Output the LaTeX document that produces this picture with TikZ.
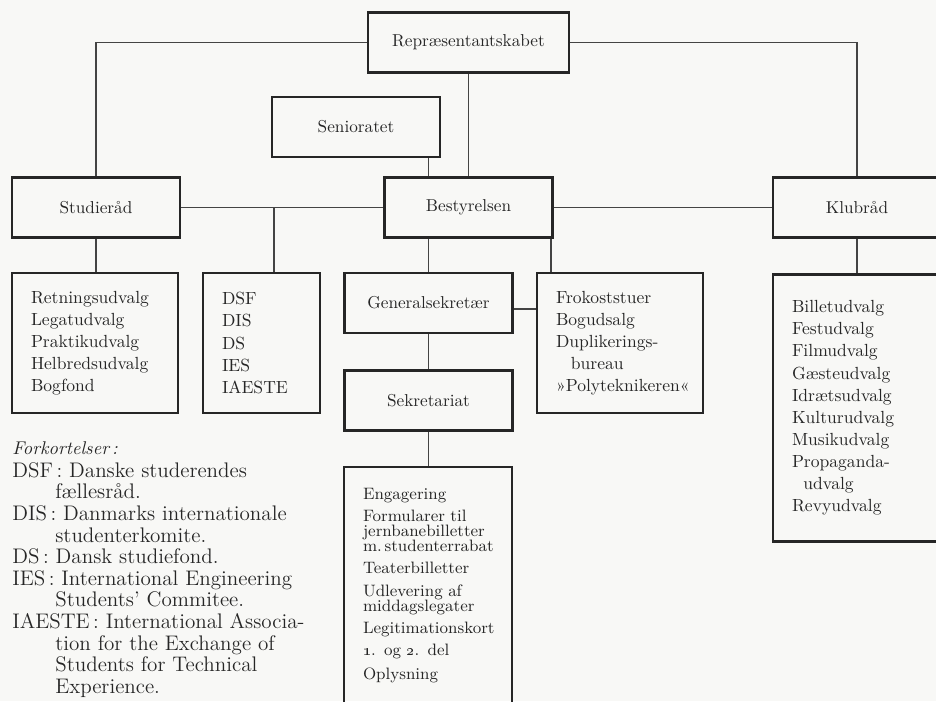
\documentclass[tikz,border=0pt]{standalone}
\usepackage{tikz}
\usepackage{xcolor}
\definecolor{paper}{HTML}{F8F8F6}
\definecolor{inkdark}{HTML}{262626}
\definecolor{inkgrey}{HTML}{262626}
\definecolor{linegrey}{HTML}{444444}
\hyphenpenalty=10000
\tikzset{
  orgbox/.style  ={rectangle, draw=inkdark, line width=1.3pt, minimum width=3.36cm,
                   minimum height=1.2cm, align=center, inner sep=1pt,
                   font=\fontsize{9.8}{12.5}\selectfont, text=inkgrey},
  topbox/.style  ={orgbox, minimum width=4.02cm},
  listbox/.style ={rectangle, draw=inkdark, line width=1.3pt, align=left,
                   inner xsep=0.38cm, inner ysep=2pt,
                   font=\fontsize{10}{12.6}\selectfont, text=inkgrey},
  smallbox/.style={listbox, font=\fontsize{9.4}{8.5}\selectfont},
  link/.style    ={draw=linegrey, line width=0.65pt},
  abbrev/.style  ={anchor=north west, align=left, inner sep=0pt,
                   font=\fontsize{12}{12.3}\selectfont, text=inkgrey},
}

\begin{document}
\begin{tikzpicture}[x=0.02cm, y=-0.02cm]

\fill[paper] (0,0) rectangle (936,701);
\useasboundingbox (0,0) rectangle (936,701);

% ---------------- main bodies ----------------
\node[topbox] (rep)  at (468.5, 42.5) {Repræsentantskabet};
\node[orgbox] (sen)  at (356,  127)   {Senioratet};
\node[orgbox] (stud) at (96,   207.5) {Studieråd};
\node[orgbox] (best) at (468.5,207.5) {Bestyrelsen};
\node[orgbox] (klub) at (857,  207.5) {Klubråd};
\node[orgbox] (gen)  at (428.5,303)   {Generalsekretær};
\node[orgbox] (sek)  at (428.5,400.5) {Sekretariat};

% ---------------- lists ----------------
\node[listbox, text width=2.56cm, minimum height=2.8cm] (studlist) at (95,343)
      {Retningsudvalg\\Legatudvalg\\Praktikudvalg\\Helbredsudvalg\\Bogfond};
\node[listbox, text width=1.58cm, minimum height=2.8cm] (intl) at (261.5,343)
      {DSF\\DIS\\DS\\IES\\IAESTE};
\node[listbox, text width=2.56cm, minimum height=2.8cm] (drift) at (620,343)
      {Frokoststuer\\Bogudsalg\\Duplikerings-\\\hspace*{0.85em}bureau\\»Polyteknikeren«};
\node[listbox, text width=2.6cm, minimum height=5.34cm] (udvalg) at (857,408)
      {Billetudvalg\\Festudvalg\\Filmudvalg\\Gæsteudvalg\\Idrætsudvalg\\Kulturudvalg\\
       Musikudvalg\\Propaganda-\\\hspace*{0.65em}udvalg\\Revyudvalg};
\node[smallbox, text width=2.6cm, anchor=north, inner ysep=0.42cm, text depth=5cm] (opg) at (428,466)
      {Engagering\\[4.2pt]
       Formularer til\\jernbanebilletter\\m.\,studenterrabat\\[4.2pt]
       Teaterbilletter\\[4.2pt]
       Udlevering af\\middagslegater\\[4.2pt]
       Legitimationskort\\[4.2pt]
       \oldstylenums{1}. og \oldstylenums{2}. del\\[4.2pt]
       Oplysning};

% ---------------- abbreviations ----------------
\node[abbrev] (abbr) at (12,441)
      {{\fontsize{10.5}{12}\selectfont\itshape Forkortelser\,:}\\[0.8pt]
       DSF\,: Danske studerendes\\
       \hspace*{0.86cm}fællesråd.\\
       DIS\,: Danmarks internationale\\
       \hspace*{0.86cm}studenterkomite.\\
       DS\,: Dansk studiefond.\\
       IES\,: International Engineering\\
       \hspace*{0.86cm}Students’ Commitee.\\
       IAESTE\,: International Associa-\\
       \hspace*{0.86cm}tion for the Exchange of\\
       \hspace*{0.86cm}Students for Technical\\
       \hspace*{0.86cm}Experience.};

% ---------------- connections ----------------
\draw[link] (rep) -| (stud);
\draw[link] (rep) -| (klub);
\draw[link] (rep) -- (best);
\draw[link] (gen |- sen.south) -- (gen |- best.north);
\draw[link] (stud) -- (best);
\draw[link] (best) -- (klub);
\draw[link] (stud.south) -- (stud.south |- studlist.north);
\draw[link] ([xshift=0.25cm]intl.north) -- ([xshift=0.25cm]intl.north |- stud.east);
\draw[link] (gen |- best.south) -- (gen);
\draw[link] ([xshift=-1.5pt]best.south east) -- ([xshift=-1.5pt]best.south east |- drift.north);
\draw[link] ([yshift=-0.12cm]gen.east) -- ([yshift=-0.12cm]gen.east -| drift.west);
\draw[link] (gen) -- (sek);
\draw[link] (sek.south) -- (sek.south |- opg.north);
\draw[link] (klub) -- (udvalg);

\end{tikzpicture}
\end{document}
